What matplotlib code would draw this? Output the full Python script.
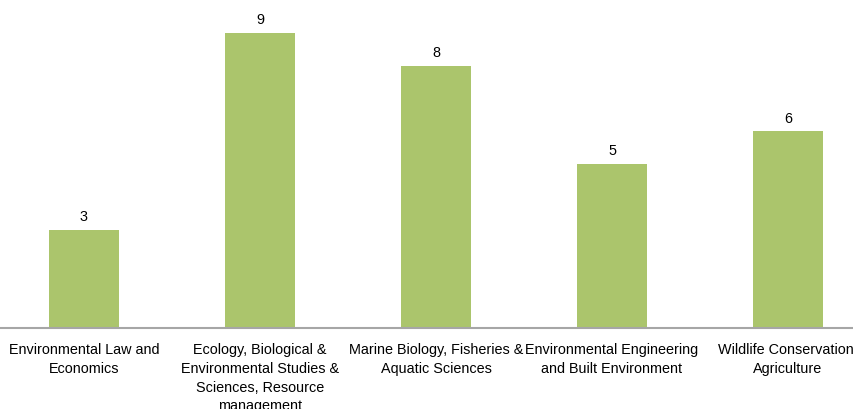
import matplotlib
matplotlib.use("Agg")
import matplotlib.pyplot as plt

categories = [
    "Environmental Law and\nEconomics",
    "Ecology, Biological &\nEnvironmental Studies &\nSciences, Resource\nmanagement",
    "Marine Biology, Fisheries &\nAquatic Sciences",
    "Environmental Engineering\nand Built Environment",
    "Wildlife Conservation,\nAgriculture",
]
values = [3, 9, 8, 5, 6]

plt.rcParams['font.family'] = ['Liberation Sans', 'DejaVu Sans']

W, H = 854, 409
fig = plt.figure(figsize=(W / 100, H / 100), dpi=100)
left_px, right_px = -4, 876
top_px, base_px = 0, 328
ax = fig.add_axes([left_px / W, 1 - base_px / H, (right_px - left_px) / W, (base_px - top_px) / H])
ax.set_xlim(-0.5, len(categories) - 0.5)
ax.set_ylim(0, 10)

x = list(range(len(categories)))
bars = ax.bar(x, values, width=0.4, color="#ABC56C", zorder=2)
for xi, v in zip(x, values):
    ax.annotate(str(v), (xi, v), xytext=(0, 4), textcoords="offset points",
                ha="center", va="bottom", fontsize=10.4, color="#000000")

for s in ["top", "right", "left"]:
    ax.spines[s].set_visible(False)
ax.spines["bottom"].set_color("#A6A6A6")
ax.spines["bottom"].set_linewidth(1.5)
ax.set_yticks([])
ax.set_xticks(x)
ax.set_xticklabels(categories, fontsize=10.4, linespacing=1.42, color="#000000")
ax.tick_params(axis="x", length=0, pad=11)

fig.savefig("out.png", dpi=100)
